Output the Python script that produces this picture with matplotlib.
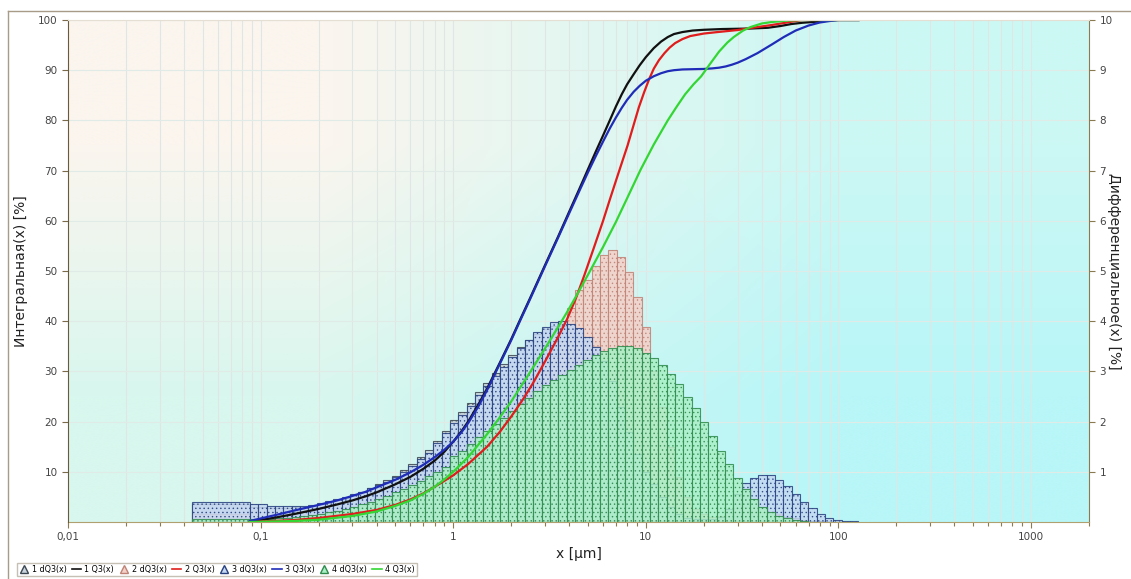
## Particle size distribution: 4 samples, dQ3 bars + Q3 curves
import numpy as np
import matplotlib
matplotlib.use("Agg")
import matplotlib.pyplot as plt
from matplotlib.lines import Line2D
from matplotlib.ticker import FixedLocator, FixedFormatter, LogLocator, NullFormatter

plt.rcParams["hatch.linewidth"] = 0.5

## channel edges in µm: one wide first channel, then log channels up to ~127 µm
first_edge = 0.044
channel_edges = np.geomspace(0.088, 126.9, 74)

## dQ3 per channel [%] (first value = wide channel 0.044-0.088)
dq3_1 = [0.36,
         0.3, 0.3, 0.28, 0.28, 0.28, 0.29, 0.3, 0.32, 0.35, 0.39, 0.43, 0.48, 0.54, 0.6, 0.67, 0.75, 0.83, 0.92,
         1.03, 1.15, 1.29, 1.44, 1.62, 1.82,
         2.03, 2.2, 2.38, 2.58, 2.77, 2.96, 3.14, 3.32, 3.48, 3.62, 3.75, 3.84, 3.9, 3.9, 3.85, 3.75, 3.62, 3.5,
         3.3, 3.0, 2.6, 2.1, 1.6, 1.1, 0.7, 0.42, 0.25, 0.14, 0.08, 0.05, 0.04, 0.04, 0.05, 0.06, 0.08, 0.1,
         0.13, 0.15, 0.15, 0.13, 0.1, 0.07, 0.04, 0.02, 0.01, 0, 0, 0, 0]
dq3_2 = [0.16,
         0.06, 0.06, 0.07, 0.08, 0.09, 0.1, 0.12, 0.14, 0.16, 0.18, 0.21, 0.24, 0.28, 0.32, 0.37, 0.42, 0.48, 0.54,
         0.6, 0.67, 0.74, 0.82, 0.9, 0.98,
         1.1, 1.25, 1.4, 1.55, 1.7, 1.85, 2.0, 2.2, 2.4, 2.6, 2.8, 3.0, 3.3, 3.6, 4.26, 4.62, 4.82, 5.09,
         5.32, 5.42, 5.28, 4.99, 4.49, 3.89, 3.0, 2.3, 1.5, 0.9, 0.5, 0.25, 0.15, 0.1, 0.12, 0.18, 0.25, 0.3,
         0.3, 0.25, 0.2, 0.15, 0.08, 0.04, 0.02, 0, 0, 0, 0, 0, 0]
dq3_3 = [0.40,
         0.36, 0.36, 0.32, 0.32, 0.32, 0.32, 0.32, 0.34, 0.37, 0.41, 0.45, 0.5, 0.56, 0.6, 0.67, 0.74, 0.8, 0.89,
         1.0, 1.11, 1.25, 1.38, 1.57, 1.77,
         1.97, 2.13, 2.31, 2.52, 2.71, 2.91, 3.09, 3.29, 3.46, 3.63, 3.79, 3.89, 3.99, 4.01, 3.95, 3.86, 3.69, 3.49,
         3.2, 2.8, 2.3, 1.8, 1.35, 1.0, 0.75, 0.5, 0.3, 0.15, 0.08, 0.05, 0.05, 0.06, 0.1, 0.25, 0.55, 0.77,
         0.87, 0.94, 0.94, 0.84, 0.72, 0.56, 0.40, 0.27, 0.16, 0.08, 0.04, 0.02, 0.01]
dq3_4 = [0.06,
         0.05, 0.05, 0.06, 0.07, 0.08, 0.1, 0.12, 0.14, 0.16, 0.19, 0.22, 0.26, 0.3, 0.35, 0.4, 0.46, 0.52, 0.59,
         0.66, 0.74, 0.82, 0.91, 1.0, 1.1,
         1.32, 1.42, 1.55, 1.69, 1.82, 1.95, 2.08, 2.22, 2.35, 2.48, 2.6, 2.72, 2.82, 2.92, 3.02, 3.12, 3.22, 3.32,
         3.4, 3.47, 3.5, 3.5, 3.47, 3.37, 3.26, 3.13, 2.95, 2.75, 2.5, 2.27, 2.0, 1.71, 1.41, 1.15, 0.88, 0.65,
         0.45, 0.3, 0.2, 0.12, 0.07, 0.04, 0.02, 0, 0, 0, 0, 0, 0]

## Q3 curves (cumulative %), read at sizes in µm
q3_1_x = [0.088, 0.1, 0.12, 0.15, 0.2, 0.25, 0.3, 0.35, 0.4, 0.5, 0.6, 0.7, 0.8, 0.9, 1.0, 1.1, 1.2, 1.35, 1.5,
          1.75, 2.0, 2.25, 2.5, 2.75, 3.0, 3.5, 4.0, 4.5, 5.0, 5.5, 6.0, 6.5, 7.0, 7.5, 8.0, 8.65, 9.3, 10, 11,
          12, 13, 14, 15.5, 17.5, 20, 25, 35, 43, 50, 57, 65, 80, 90, 100, 127]
q3_1_y = [0.1, 0.4, 0.9, 1.6, 2.6, 3.5, 4.3, 5.1, 5.9, 7.5, 9.0, 10.6, 12.2, 14.0, 16.0, 18.0, 20.1, 23.4, 26.6,
          31.8, 36.4, 40.7, 44.5, 48.0, 51.2, 56.8, 61.8, 66.2, 70.2, 73.8, 77.0, 80.0, 82.8, 85.2, 87.2, 89.2,
          91.0, 92.6, 94.4, 95.7, 96.6, 97.2, 97.6, 97.9, 98.05, 98.2, 98.3, 98.45, 98.8, 99.2, 99.45, 99.7,
          99.9, 100, 100]
q3_2_x = [0.088, 0.1, 0.15, 0.2, 0.3, 0.4, 0.5, 0.6, 0.7, 0.8, 0.9, 1.0, 1.2, 1.5, 1.75, 2.0, 2.3, 2.6, 3.0,
          3.5, 3.9, 4.3, 4.8, 5.36, 6.0, 6.5, 7.0, 7.5, 8.04, 8.6, 9.2, 9.8, 10.4, 11, 11.7, 12.5, 13.3, 14.2,
          15.5, 17, 20, 23.6, 30, 35, 45, 52, 60, 65, 100, 127]
q3_2_y = [0, 0.1, 0.4, 0.8, 1.6, 2.4, 3.4, 4.5, 5.7, 7.0, 8.2, 9.3, 11.6, 15.0, 18.0, 21.0, 24.4, 27.7, 32.0,
          36.8, 40.4, 44.2, 49.2, 54.5, 60.0, 64.2, 68.0, 71.5, 75.0, 78.8, 82.6, 85.6, 88.2, 90.3, 92.0, 93.4,
          94.5, 95.4, 96.2, 96.8, 97.3, 97.6, 98.0, 98.4, 99.0, 99.4, 99.8, 100, 100, 100]
q3_3_x = [0.088, 0.1, 0.12, 0.15, 0.2, 0.25, 0.3, 0.35, 0.4, 0.5, 0.6, 0.7, 0.8, 0.9, 1.0, 1.1, 1.2, 1.35, 1.5,
          1.75, 2.0, 2.25, 2.5, 2.75, 3.0, 3.5, 4.0, 4.5, 5.0, 5.5, 6.0, 6.5, 7.0, 7.5, 8.0, 8.65, 9.3, 10, 11,
          12, 13, 14, 15.5, 17.5, 20, 22, 24, 26, 28, 30, 33, 38, 45, 52, 60, 70, 80, 92, 100, 127]
q3_3_y = [0.2, 0.7, 1.4, 2.3, 3.4, 4.3, 5.2, 6.0, 6.9, 8.4, 9.9, 11.4, 12.9, 14.4, 16.0, 17.8, 19.8, 23.0, 26.3,
          31.6, 36.2, 40.5, 44.3, 47.8, 51.0, 56.6, 61.5, 65.8, 69.6, 72.9, 75.8, 78.4, 80.6, 82.5, 84.1, 85.7,
          86.9, 87.9, 88.8, 89.4, 89.8, 90.0, 90.15, 90.2, 90.25, 90.35, 90.5, 90.75, 91.1, 91.5, 92.2, 93.4,
          95.1, 96.6, 97.9, 98.9, 99.5, 99.85, 100, 100]
q3_4_x = [0.088, 0.1, 0.15, 0.2, 0.3, 0.4, 0.5, 0.6, 0.7, 0.8, 0.9, 1.0, 1.2, 1.5, 1.75, 2.0, 2.3, 2.6, 3.0,
          3.5, 3.9, 4.5, 5.2, 6.0, 7.0, 8.0, 9.4, 11, 13, 14.5, 16, 17.7, 19.4, 21.5, 24, 26.5, 28.6, 32, 35,
          40, 45, 55, 65, 100, 127]
q3_4_y = [0, 0.05, 0.2, 0.45, 1.2, 2.1, 3.2, 4.3, 5.6, 7.0, 8.5, 10.0, 13.0, 17.5, 20.9, 24.0, 27.6, 30.8, 34.6,
          38.8, 41.8, 46.0, 50.4, 54.8, 59.8, 64.5, 70.2, 75.2, 80.0, 82.8, 85.2, 87.2, 88.8, 91.2, 93.7, 95.5,
          96.6, 97.9, 98.6, 99.3, 99.6, 99.9, 100, 100, 100]

x_ticks = [0.01, 0.1, 1, 10, 100, 1000]
x_tick_labels = ["0,01", "0,1", "1", "10", "100", "1000"]
left_ticks = [10, 20, 30, 40, 50, 60, 70, 80, 90, 100]
right_ticks = [1, 2, 3, 4, 5, 6, 7, 8, 9, 10]

## bar styles per sample: (face, edge/dots)
bar_styles = [("#c9d3dc", "#3c4650"), ("#f4d0c8", "#bf8276"), ("#c4d8f2", "#27407e"), ("#a9efc6", "#2f8a4c")]
line_colors = ["#111111", "#e01c1c", "#1f2cb8", "#33d633"]

W, H = 1131, 579
fig = plt.figure(figsize=(W / 100, H / 100), dpi=100)
fig.patch.set_facecolor("white")
rect = [68 / W, 1 - 522 / H, (1089 - 68) / W, (522 - 20) / H]

## gradient background (peach top-left -> cyan right)
bg = fig.add_axes(rect, zorder=0)
corner = np.array([[[251, 245, 238], [204, 248, 244]],
                   [[216, 247, 238], [184, 246, 248]]]) / 255.0
bg.imshow(corner, extent=[0, 1, 0, 1], aspect="auto", interpolation="bilinear")
bg.set_axis_off()

## bars axis (right scale)
axb = fig.add_axes(rect, zorder=1)
axb.patch.set_visible(False)
axb.set_xscale("log")
axb.set_xlim(0.01, 2000)
axb.set_ylim(0, 10)

lefts = np.concatenate([[first_edge], channel_edges[:-1]])
widths = channel_edges - lefts
for vals, (face, edge) in zip([dq3_1, dq3_2, dq3_3, dq3_4], bar_styles):
    axb.bar(lefts, vals, width=widths, align="edge", color=face, edgecolor=edge,
            linewidth=0.8, hatch="....", alpha=0.85)

## curves axis (left scale) - twinx moves axb ticks, so set sides afterwards
axl = axb.twinx()
axl.set_zorder(2)
axl.patch.set_visible(False)
axl.yaxis.tick_left()
axl.yaxis.set_label_position("left")
axb.yaxis.tick_right()
axb.yaxis.set_label_position("right")

axb.set_yticks(right_ticks)
axb.set_yticklabels([str(t) for t in right_ticks])
axb.set_ylabel("Дифференциальное(x) [%]", rotation=270, labelpad=6, fontsize=10, color="#222")
axb.xaxis.set_major_locator(FixedLocator(x_ticks))
axb.xaxis.set_major_formatter(FixedFormatter(x_tick_labels))
axb.xaxis.set_minor_locator(LogLocator(base=10, subs=np.arange(2, 10), numticks=20))
axb.xaxis.set_minor_formatter(NullFormatter())
axb.set_xlabel("x [µm]", fontsize=10, color="#222", labelpad=3)
axb.tick_params(axis="both", which="both", direction="out", colors="#8a7a50", labelcolor="#444",
                labelsize=7.5, length=4, width=0.8)
axb.tick_params(axis="x", which="minor", length=3)
axb.set_axisbelow(True)
axb.grid(True, which="both", axis="x", color="#dfe6e3", linewidth=0.8)
axb.grid(True, which="major", axis="y", color="#e0ebe7", linewidth=0.8)
for s in ["left", "top"]:
    axb.spines[s].set_visible(False)
axb.spines["bottom"].set_color("#b0a070")
axb.spines["right"].set_color("#8a7a50")

axl.set_ylim(0, 100)
axl.set_yticks(left_ticks)
axl.set_yticklabels([str(t) for t in left_ticks])
axl.set_ylabel("Интегральная(x) [%]", fontsize=10, color="#222", labelpad=7)
axl.tick_params(axis="y", direction="out", colors="#7a6a4a", labelcolor="#444", labelsize=7.5, length=4, width=0.8)
for s in ["right", "bottom"]:
    axl.spines[s].set_visible(False)
axl.spines["left"].set_color("#6a5a3a")
axl.spines["top"].set_color("#e4dfd2")

curves = [(q3_1_x, q3_1_y), (q3_2_x, q3_2_y), (q3_3_x, q3_3_y), (q3_4_x, q3_4_y)]
for (qx, qy), c in zip(curves, line_colors):
    axl.plot(qx, qy, color=c, linewidth=1.6, solid_joinstyle="round")
axl.set_xlim(0.01, 2000)

## legend along the bottom
handles, labels = [], []
for i, ((face, edge), c) in enumerate(zip(bar_styles, line_colors), start=1):
    handles.append(Line2D([], [], marker="^", linestyle="none", markerfacecolor=face,
                          markeredgecolor=edge, markersize=6))
    labels.append(f"{i} dQ3(x)")
    handles.append(Line2D([], [], color=c, linewidth=1.2))
    labels.append(f"{i} Q3(x)")
fig.legend(handles, labels, loc="lower left", bbox_to_anchor=(17 / W, 3 / H), ncol=8, fontsize=5.8,
           frameon=True, fancybox=False, edgecolor="#b8b0a0", handlelength=1.2, handletextpad=0.4,
           columnspacing=0.6, borderpad=0.25, borderaxespad=0)

## outer frame
fig.add_artist(Line2D([8 / W, 1], [1 - 11 / H, 1 - 11 / H], transform=fig.transFigure, color="#a89c88", lw=1))
fig.add_artist(Line2D([8 / W, 8 / W], [0, 1 - 11 / H], transform=fig.transFigure, color="#a89c88", lw=1))

fig.savefig("out.png", dpi=100)
